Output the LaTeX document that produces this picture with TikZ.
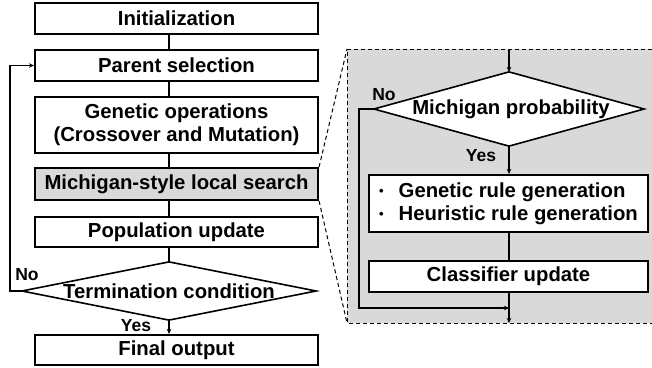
\documentclass[tikz,border=0pt]{standalone}
\usepackage{fontspec}
\setmainfont{Liberation Sans}
\usetikzlibrary{arrows.meta}
\definecolor{panelgray}{HTML}{D9D9D9}
\newcommand{\smbul}{\raisebox{1.5pt}{\fontsize{13}{13}\selectfont\textbullet}}
\begin{document}
\begin{tikzpicture}[x=1pt,y=-1pt,
  box/.style={draw, line width=2.2pt, fill=white, inner sep=0pt, font=\fontsize{20.3}{23}\selectfont\bfseries, align=center},
  lbl/.style={inner sep=0pt, font=\fontsize{17.5}{20}\selectfont\bfseries},
  conn/.style={line width=1.5pt},
  arr/.style={line width=1.5pt, -{Stealth[length=5pt,width=4.5pt]}},
  dsh/.style={line width=1pt, dash pattern=on 4pt off 3pt}]
\useasboundingbox (0,0) rectangle (652,367);
% zoom panel
\fill[panelgray] (347,49) rectangle (652,323);
\draw[dsh] (652,49) -- (347,49) -- (347,323) -- (652,323);
% left column
\node[box, minimum width=283, minimum height=31] (init) at (176.5,18.5) {Initialization};
\node[box, minimum width=283, minimum height=31] (parent) at (176.5,65.5) {Parent selection};
\node[box, minimum width=283, minimum height=56] (genop) at (176.5,125) {Genetic operations\\(Crossover and Mutation)};
\node[box, minimum width=283, minimum height=32, fill=panelgray] (mich) at (176.5,184) {Michigan-style local search};
\node[box, minimum width=283, minimum height=30] (pop) at (176.5,232) {Population update};
\node[box, draw=none, fill=none, minimum width=292, minimum height=56] (term) at (169,291) {};
\draw[line width=1.6pt, fill=white] (term.west) -- (term.north) -- (term.east) -- (term.south) -- cycle;
\node[box, draw=none, fill=none] (termtxt) at (169,291) {Termination condition};
\node[box, minimum width=283, minimum height=30] (final) at (176.5,350) {Final output};
% left connectors
\draw[conn] (init.south -| term.north) -- (parent.north -| term.north);
\draw[conn] (parent.south -| term.north) -- (genop.north -| term.north);
\draw[conn] (genop.south -| term.north) -- (mich.north -| term.north);
\draw[conn] (mich.south -| term.north) -- (pop.north -| term.north);
\draw[conn] (pop.south -| term.north) -- (term.north);
\draw[arr] (term.south) -- (final.north -| term.south);
\coordinate (noL) at (10,291);
\draw[arr] (term.west) -- (noL) |- (parent.west);
\node[lbl] (noleft) at (27,275) {No};
\node[lbl] (yesleft) at (136,326) {Yes};
% dashed zoom lines
\draw[dsh] (mich.north east) -- (347,49);
\draw[dsh] (mich.south east) -- (347,323);
% right panel
\node[box, draw=none, fill=none, minimum width=268, minimum height=72] (mp) at (509,109) {};
\draw[line width=1.6pt, fill=white] (mp.west) -- (mp.north) -- (mp.east) -- (mp.south) -- cycle;
\node[box, draw=none, fill=none] (mptxt) at (511,109) {Michigan probability};
\coordinate (ptop) at (509,49);
\draw[arr] (ptop) -- (mp.north);
\node[box, minimum width=279, minimum height=57, align=left] (gen) at (508.5,203.5)
  {\smbul\hspace{15pt}Genetic rule generation\\\smbul\hspace{15pt}Heuristic rule generation};
\node[box, minimum width=279, minimum height=31] (cls) at (508.5,276.5) {Classifier update};
\draw[arr] (mp.south) -- (gen.north -| mp.south);
\draw[conn] (gen.south -| mp.south) -- (cls.north -| mp.south);
\coordinate (pbot) at (509,323);
\draw[arr] (cls.south -| mp.south) -- (pbot);
\coordinate (noR) at (359,109);
\coordinate (noRb) at (359,308);
\draw[arr] (mp.west) -- (noR) -- (noRb) -- (noRb -| mp.south);
\node[lbl] (noright) at (384,95) {No};
\node[lbl] (yesright) at (481,156) {Yes};
\end{tikzpicture}
\end{document}
